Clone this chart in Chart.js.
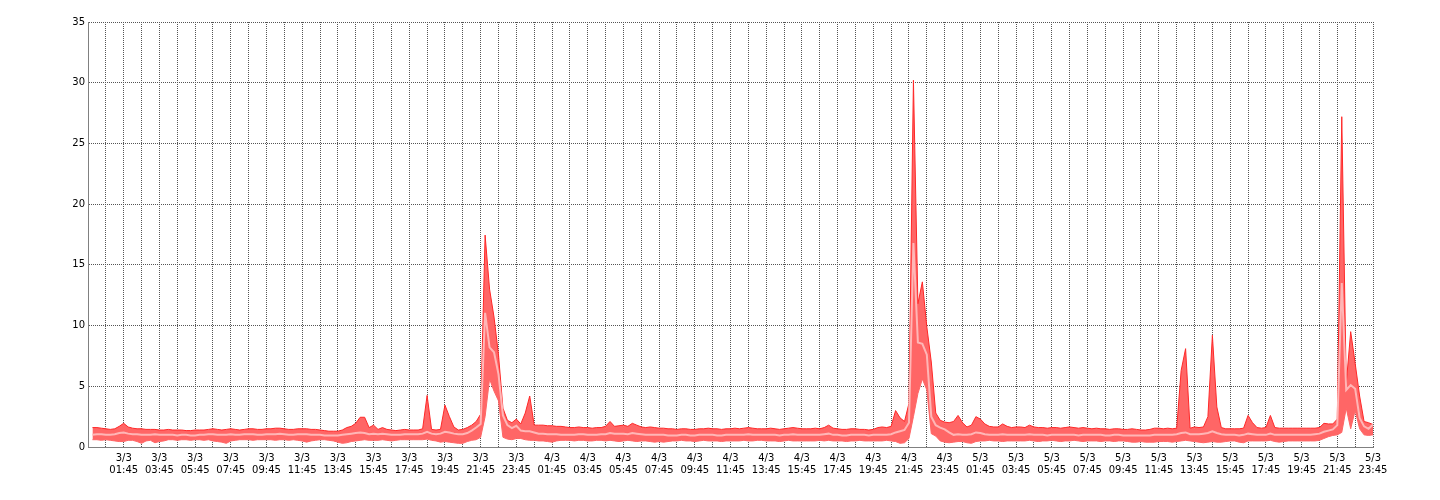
<!DOCTYPE html>
<html>
<head>
<meta charset="utf-8">
<script src="https://cdn.jsdelivr.net/npm/chart.js@4.4.1/dist/chart.umd.min.js"></script>
<style>
html,body{margin:0;padding:0;background:#fff;}
#wrap{width:1440px;height:500px;}
</style>
</head>
<body>
<div id="wrap"><canvas id="c" width="1440" height="500"></canvas></div>
<script>
// 15-minute samples from 3/3 00:00 to 5/3 23:45 (index 0..287)
const maxValues = [
1.6,1.6,1.55,1.5,1.45,1.5,1.7,1.95,1.65,1.55,1.5,1.5,1.45,1.45,1.45,1.4,
1.4,1.45,1.4,1.4,1.4,1.35,1.35,1.4,1.4,1.4,1.45,1.5,1.45,1.4,1.45,1.5,
1.45,1.4,1.45,1.5,1.5,1.45,1.45,1.5,1.5,1.55,1.55,1.5,1.45,1.45,1.5,1.5,
1.5,1.45,1.45,1.4,1.35,1.3,1.3,1.3,1.4,1.6,1.7,1.95,2.45,2.45,1.6,1.8,
1.45,1.6,1.45,1.4,1.35,1.4,1.45,1.4,1.4,1.4,1.5,4.25,1.45,1.4,1.45,3.45,
2.5,1.65,1.4,1.45,1.6,1.8,2.1,2.7,17.45,13.0,10.7,7.6,3.2,2.2,2.0,2.3,
1.9,2.8,4.2,1.8,1.8,1.8,1.75,1.75,1.7,1.7,1.65,1.6,1.6,1.65,1.6,1.6,
1.55,1.6,1.6,1.7,2.1,1.7,1.75,1.8,1.7,1.95,1.8,1.65,1.6,1.65,1.6,1.55,
1.55,1.5,1.5,1.45,1.5,1.5,1.45,1.45,1.5,1.5,1.55,1.5,1.5,1.45,1.5,1.5,
1.55,1.5,1.55,1.6,1.55,1.5,1.5,1.5,1.55,1.5,1.45,1.5,1.55,1.6,1.55,1.5,
1.5,1.5,1.55,1.5,1.6,1.8,1.55,1.5,1.45,1.45,1.5,1.5,1.45,1.45,1.4,1.45,
1.6,1.65,1.6,1.7,3.0,2.4,2.1,3.6,30.2,11.8,13.6,9.9,7.0,2.8,2.2,2.05,
2.0,2.1,2.6,2.0,1.65,1.8,2.5,2.3,1.9,1.7,1.65,1.65,1.9,1.7,1.6,1.65,
1.65,1.6,1.8,1.65,1.6,1.6,1.55,1.6,1.6,1.55,1.6,1.65,1.6,1.55,1.6,1.55,
1.5,1.55,1.5,1.5,1.45,1.5,1.5,1.45,1.45,1.5,1.45,1.4,1.4,1.45,1.55,1.55,
1.5,1.55,1.5,1.55,6.3,8.1,1.55,1.65,1.6,1.65,2.5,9.2,3.3,1.6,1.5,1.5,
1.5,1.5,1.55,2.6,2.0,1.6,1.55,1.6,2.6,1.6,1.55,1.55,1.55,1.55,1.55,1.55,
1.55,1.55,1.55,1.6,1.95,1.9,1.9,2.3,27.2,5.2,9.5,6.9,4.2,2.1,2.0,1.85
];
const avgValues = [
1.0,1.05,1.05,1.0,1.0,1.05,1.15,1.2,1.1,1.05,1.05,1.0,1.0,1.0,1.05,1.0,
1.0,1.0,1.0,0.95,1.0,1.0,0.95,0.95,1.0,1.0,1.05,1.05,1.0,1.0,1.0,1.05,
1.0,1.0,1.05,1.05,1.05,1.0,1.0,1.05,1.05,1.05,1.1,1.05,1.0,1.0,1.05,1.05,
1.05,1.0,1.0,1.0,0.95,0.95,0.95,0.95,1.0,1.05,1.1,1.15,1.2,1.15,1.05,1.1,
1.05,1.1,1.05,1.0,1.0,1.0,1.05,1.05,1.05,1.05,1.1,1.25,1.1,1.05,1.1,1.25,
1.2,1.1,1.05,1.05,1.15,1.35,1.6,1.9,11.05,8.2,7.8,6.0,2.6,1.8,1.55,1.75,
1.35,1.3,1.3,1.2,1.1,1.1,1.05,1.05,1.05,1.0,1.0,1.0,1.0,1.05,1.05,1.0,
1.0,1.0,1.05,1.05,1.15,1.1,1.1,1.1,1.05,1.15,1.1,1.05,1.0,1.0,1.0,1.0,
1.0,0.95,0.95,0.95,1.0,1.0,0.95,0.95,1.0,1.0,1.0,1.0,0.95,0.95,1.0,1.0,
1.0,1.0,1.0,1.05,1.0,1.0,1.0,1.0,1.0,1.0,0.95,1.0,1.0,1.05,1.0,1.0,
1.0,1.0,1.0,1.0,1.05,1.1,1.0,1.0,0.95,0.95,1.0,1.0,1.0,1.0,0.95,1.0,
1.0,1.0,1.0,1.05,1.2,1.3,1.4,2.0,16.8,8.6,8.5,7.6,2.5,1.8,1.6,1.45,
1.2,1.0,1.05,1.0,1.0,1.05,1.2,1.15,1.05,1.0,1.0,1.0,1.05,1.0,1.0,1.0,
1.0,1.0,1.05,1.0,1.0,1.0,0.95,1.0,1.0,1.0,1.0,1.0,1.0,0.95,1.0,1.0,
1.0,1.0,1.0,0.95,0.95,1.0,1.0,0.95,0.95,0.95,0.95,0.95,0.95,0.95,1.0,1.0,
1.0,1.0,1.0,1.05,1.15,1.2,1.05,1.05,1.05,1.1,1.15,1.3,1.15,1.05,1.0,1.0,
1.0,0.95,1.0,1.1,1.05,1.0,1.0,1.0,1.1,1.0,1.0,1.0,1.0,1.0,1.0,1.0,
1.0,1.0,1.05,1.1,1.25,1.35,1.45,1.8,13.5,4.7,5.1,4.8,2.4,1.7,1.5,1.85
];
const minValues = [
0.6,0.6,0.55,0.6,0.55,0.5,0.45,0.45,0.55,0.55,0.45,0.3,0.5,0.55,0.35,0.45,
0.5,0.6,0.6,0.55,0.6,0.6,0.55,0.6,0.6,0.55,0.6,0.5,0.45,0.4,0.3,0.5,
0.55,0.6,0.6,0.6,0.55,0.6,0.6,0.6,0.6,0.55,0.6,0.6,0.55,0.6,0.55,0.5,
0.4,0.5,0.55,0.6,0.6,0.55,0.5,0.4,0.3,0.35,0.45,0.5,0.55,0.6,0.55,0.55,
0.55,0.6,0.55,0.5,0.55,0.6,0.6,0.6,0.6,0.6,0.6,0.65,0.55,0.5,0.4,0.45,
0.4,0.35,0.3,0.3,0.45,0.55,0.6,0.8,2.5,5.6,4.6,3.8,0.8,0.65,0.6,0.7,
0.7,0.6,0.55,0.55,0.5,0.5,0.45,0.4,0.5,0.55,0.55,0.55,0.5,0.55,0.55,0.5,
0.5,0.55,0.55,0.5,0.55,0.5,0.45,0.5,0.55,0.5,0.45,0.5,0.5,0.45,0.4,0.45,
0.4,0.45,0.5,0.5,0.55,0.5,0.5,0.45,0.5,0.55,0.5,0.5,0.5,0.45,0.5,0.5,
0.5,0.5,0.55,0.5,0.5,0.55,0.55,0.5,0.5,0.5,0.45,0.5,0.55,0.5,0.5,0.5,
0.5,0.5,0.5,0.55,0.5,0.55,0.5,0.5,0.5,0.45,0.5,0.5,0.55,0.5,0.5,0.5,
0.5,0.5,0.55,0.5,0.45,0.3,0.35,0.7,2.5,4.4,5.6,4.7,1.1,0.9,0.5,0.4,
0.35,0.4,0.45,0.45,0.35,0.3,0.45,0.5,0.5,0.55,0.5,0.5,0.45,0.5,0.5,0.5,
0.5,0.5,0.55,0.5,0.45,0.5,0.5,0.55,0.5,0.45,0.5,0.5,0.55,0.5,0.45,0.5,
0.5,0.5,0.45,0.5,0.5,0.45,0.5,0.5,0.45,0.4,0.4,0.45,0.4,0.4,0.4,0.45,
0.45,0.45,0.4,0.45,0.5,0.55,0.5,0.45,0.4,0.35,0.4,0.45,0.4,0.4,0.45,0.5,
0.5,0.4,0.35,0.5,0.5,0.5,0.5,0.5,0.55,0.45,0.4,0.45,0.5,0.5,0.5,0.5,
0.5,0.5,0.5,0.55,0.7,0.85,0.95,1.0,1.2,3.2,1.5,3.0,1.5,1.0,0.95,1.0
];
const tickDays = ['3/3','4/3','5/3'];
const tickTimes = ['01:45','03:45','05:45','07:45','09:45','11:45','13:45','15:45','17:45','19:45','21:45','23:45'];
const yTicks = [0,5,10,15,20,25,30,35];

const toPoints = arr => arr.map((v, i) => ({x: i, y: v}));
const FONT = {family: 'DejaVu Sans', size: 10};

new Chart(document.getElementById('c'), {
  type: 'line',
  data: {
    datasets: [
      {label: 'avg', data: toPoints(avgValues), borderColor: 'rgb(255,182,182)', borderWidth: 2, pointRadius: 0, tension: 0, fill: false},
      {label: 'max', data: toPoints(maxValues), borderColor: 'rgb(255,40,40)', borderWidth: 1, backgroundColor: 'rgb(255,102,102)', pointRadius: 0, tension: 0, fill: 2},
      {label: 'min', data: toPoints(minValues), borderColor: 'rgb(255,102,102)', borderWidth: 1, pointRadius: 0, tension: 0, fill: false}
    ]
  },
  options: {
    responsive: false,
    animation: false,
    devicePixelRatio: 1,
    layout: {padding: {left: 0, top: 22, right: 67, bottom: 0}},
    plugins: {legend: {display: false}, tooltip: {enabled: false}},
    scales: {
      x: {
        type: 'linear',
        min: -1,
        max: 287,
        ticks: {
          stepSize: 4,
          maxTicksLimit: 200,
          autoSkip: false,
          maxRotation: 0,
          minRotation: 0,
          padding: 5,
          color: '#000',
          font: FONT,
          callback: function(v) {
            if (v < 7 || (v - 7) % 8 !== 0) return '';
            const k = (v - 7) / 8;
            return [tickDays[Math.floor(k / 12)], tickTimes[k % 12]];
          }
        },
        grid: {color: '#555', lineWidth: 1, drawTicks: false},
        border: {color: '#808080', width: 1, dash: [1, 1]},
        afterFit: s => { s.height = 53; }
      },
      y: {
        type: 'linear',
        min: 0,
        max: 35,
        afterBuildTicks: s => { s.ticks = yTicks.map(v => ({value: v})); },
        ticks: {padding: 3, color: '#000', font: FONT},
        grid: {color: '#555', lineWidth: 1, drawTicks: false},
        border: {color: '#808080', width: 1, dash: [1, 1]},
        afterFit: s => { s.width = 88; }
      }
    }
  }
});
</script>
</body>
</html>
